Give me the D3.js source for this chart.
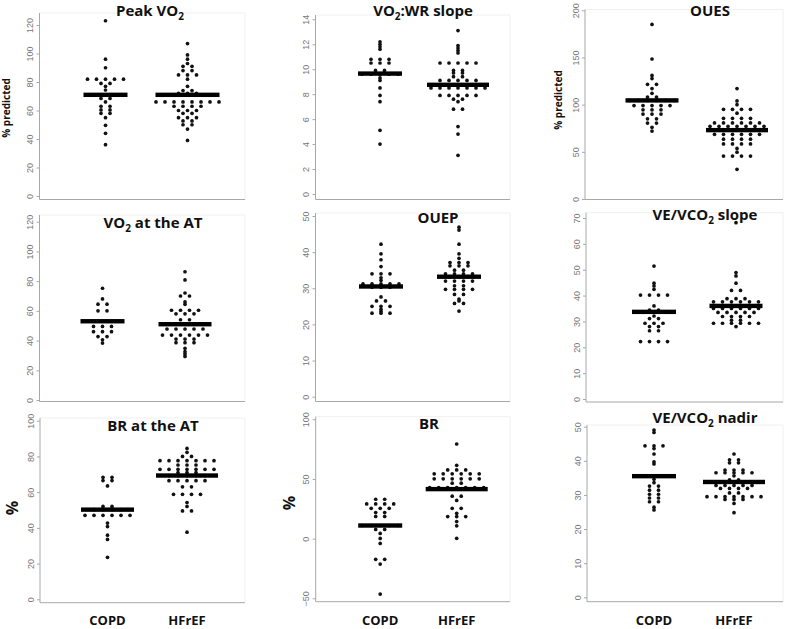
<!DOCTYPE html>
<html><head><meta charset="utf-8">
<script src="https://cdn.jsdelivr.net/npm/d3@7"></script>
<style>body{margin:0;background:#fff} svg{display:block}</style>
</head><body>
<svg id="c" width="794" height="629"></svg>
<script>
// ---------------- DATA ----------------
const groups = ["COPD", "HFrEF"];
const titles = ["Peak VO{2}", "VO{2}:WR slope", "OUES", "VO{2} at the AT", "OUEP", "VE/VCO{2} slope", "BR at the AT", "BR", "VE/VCO{2} nadir"];
const yLabels = ["% predicted", "", "% predicted", "", "", "", "%", "%", ""];
const tickValues = [
  [0, 20, 40, 60, 80, 100, 120],
  [0, 2, 4, 6, 8, 10, 12, 14],
  [0, 50, 100, 150, 200],
  [0, 20, 40, 60, 80, 100, 120],
  [0, 10, 20, 30, 40, 50],
  [0, 10, 20, 30, 40, 50, 60, 70],
  [0, 20, 40, 60, 80, 100],
  [-50, 0, 50, 100],
  [0, 10, 20, 30, 40, 50]
];
// horizontal centre line of each group (COPD, HFrEF)
const centreLines = [[71, 71], [9.65, 8.75], [104.5, 73], [53, 51], [30.5, 33.2], [33.7, 36], [50.2, 69.3], [11, 41.5], [35.5, 33.8]];

const peakVO2_COPD = [123, 96, 90, 82, 82, 82, 82, 82, 79, 79, 77, 74.4, 71, 71, 71, 71, 68.5, 68.5, 66, 63, 63, 60.4, 60.4, 58, 58, 55, 49.6, 44, 36];
const peakVO2_HFrEF = [107, 99, 96, 93, 91, 91, 88, 88, 85, 85, 85, 82, 77, 74, 74, 72, 72, 72, 71, 71, 71, 71, 71, 66, 66, 66, 66, 66, 66, 66, 66, 63, 63, 63, 63, 60, 60, 60, 58, 58, 55, 55, 55, 52.7, 52.7, 50, 50, 47, 39];
const vo2wr_COPD = [12.2, 12.0, 11.8, 11.6, 10.8, 10.8, 10.8, 10.5, 10.5, 10.5, 9.9, 9.9, 9.6, 9.6, 9.6, 9.6, 9.6, 9.3, 9.1, 8.5, 7.9, 7.4, 5.1, 4.0];
const vo2wr_HFrEF = [13.1, 11.9, 11.7, 11.5, 11.3, 10.5, 10.5, 10.5, 10.5, 10.5, 9.9, 9.9, 9.7, 9.7, 9.4, 9.4, 9.1, 9.1, 9.1, 9.1, 9.1, 8.75, 8.75, 8.75, 8.75, 8.75, 8.75, 8.5, 8.5, 8.5, 8.5, 8.5, 8.5, 8.5, 7.9, 7.9, 7.9, 7.9, 7.9, 7.6, 7.6, 7.4, 6.8, 6.8, 5.4, 4.8, 3.1];
const oues_COPD = [185, 148.4, 131, 127.6, 121.5, 121.5, 117, 112, 108, 108, 104.5, 104.5, 104.5, 104.5, 104.5, 104.5, 99, 99, 99, 99, 99, 94.5, 94.5, 94.5, 90, 90, 90, 85, 85, 80.5, 80.5, 76, 72];
const oues_HFrEF = [117, 104, 100, 95, 95, 95, 95, 91, 85.5, 85.5, 85.5, 85.5, 80.6, 80.6, 80.6, 80.6, 80.6, 80.6, 77, 77, 77, 77, 77, 77, 77, 73, 73, 73, 73, 73, 68.6, 68.6, 68.6, 68.6, 68.6, 68.6, 63.4, 63.4, 63.4, 63.4, 58.4, 58.4, 58.4, 58.4, 53.6, 49.6, 45.5, 45.5, 45.5, 45.5, 31.4];
const vo2at_COPD = [75.2, 68, 64.5, 64.5, 60, 60, 53, 53, 53, 53, 49.5, 49.5, 49.5, 46, 46, 46, 42.7, 42.7, 40.5, 38.3];
const vo2at_HFrEF = [86.3, 80.8, 72, 70, 70, 66, 64.4, 60.4, 60.4, 60.4, 60.4, 58, 58, 58, 54, 54, 51, 51, 51, 51, 51, 47.8, 47.8, 47.8, 47.8, 47.8, 43.7, 43.7, 43.7, 43.7, 43.7, 43.7, 41, 41, 41, 38.6, 38.6, 38.6, 34.8, 32.5, 31, 29.3];
const ouep_COPD = [42.2, 39.5, 37.9, 36, 34, 34, 34, 32.9, 32.2, 31.2, 31.2, 31.2, 31.2, 31.2, 30.3, 30.3, 30.3, 27.6, 26.5, 26.5, 25, 25, 25, 24.2, 23.6, 23.1, 23.1, 23.1];
const ouep_HFrEF = [46.9, 46.1, 42.2, 39.5, 38.3, 37.1, 37.1, 37.1, 36.2, 36.2, 36.2, 35, 35, 34, 34, 34, 34, 33.2, 33.2, 33.2, 32, 32, 32, 32, 30.7, 30.7, 29.7, 29.7, 29.7, 29.7, 28.3, 28.3, 27, 26.5, 25.8, 25.8, 23.7];
const veSlope_COPD = [51.4, 44.8, 43.7, 42.4, 40.2, 40.2, 40.2, 40.2, 36, 34.4, 34.4, 33.7, 33.7, 33.7, 32.1, 31.1, 31.1, 29.3, 29.3, 29.3, 28, 28, 26.4, 26.4, 22.2, 22.2, 22.2, 22.2];
const veSlope_HFrEF = [68.2, 48.9, 47.6, 44.8, 42, 42, 38.8, 38.8, 38.8, 37.6, 37.6, 37.6, 37.6, 37.6, 37.6, 36, 36, 36, 36, 36, 36, 35, 35, 35, 35, 35, 35, 33.5, 33.5, 33.5, 33.5, 33.5, 31.9, 31.9, 31.9, 31.9, 30.5, 30.5, 29.3, 29.3, 29.3, 29.3, 29.3, 29.3, 28];
const brAT_COPD = [68.3, 68.3, 66.5, 66.5, 63.5, 52, 52, 50.2, 50.2, 50.2, 50.2, 47, 47, 47, 47, 47, 47, 42.7, 40.7, 35.9, 33.5, 23.5];
const brAT_HFrEF = [84.5, 82.3, 80, 80, 77.6, 77.6, 77.6, 77.6, 77.6, 77.6, 77.6, 75.2, 75.2, 75.2, 72.8, 72.8, 72.8, 72.8, 72.8, 72.8, 72.8, 71, 71, 71, 69.3, 69.3, 69.3, 69.3, 69.3, 66.4, 66.4, 66.4, 66.4, 66.4, 63, 63, 58.8, 58.8, 58.8, 58.8, 54.2, 52, 49.5, 49.5, 37.6];
const br_COPD = [33, 33, 29.1, 29.1, 29.1, 29.1, 25.4, 25.4, 25.4, 21.9, 21.9, 18.6, 18.6, 11, 11, 11, 11, 11, 7.7, 7.7, 4.4, 0.2, -4, -17.3, -17.3, -21.3, -46.5];
const br_HFrEF = [79.3, 61.4, 57.6, 57.6, 57.6, 54.3, 54.3, 54.3, 54.3, 54.3, 54.3, 50.1, 50.1, 50.1, 50.1, 50.1, 50.1, 46.5, 46.5, 42.8, 42.8, 42.8, 42.8, 42.8, 42.8, 42.8, 41.5, 41.5, 41.5, 35.6, 35.6, 32, 25.4, 25.4, 21.2, 18.5, 18.5, 18.5, 14.3, 10.7, 0.3];
const veNadir_COPD = [49, 48.3, 44.4, 44.4, 44.4, 43.6, 42, 39.7, 39.1, 35.5, 35.5, 34.6, 33.6, 32.6, 32.6, 31.4, 31.4, 30.2, 30.2, 29.1, 29.1, 28, 28, 26.4, 25.6];
const veNadir_HFrEF = [42, 40.3, 40.3, 39.4, 39.4, 37.3, 37.3, 37.3, 36.5, 36.5, 36.5, 36.5, 36.5, 35.6, 34.4, 34.4, 33.8, 33.8, 33.8, 32.8, 32.8, 32.8, 32.8, 32.8, 31.9, 31.9, 31.9, 31.9, 30.6, 30.6, 29.5, 29.5, 29.5, 29.5, 29.5, 29.5, 29.5, 28.7, 28.7, 28.7, 27.5, 24.8];

const panelData = [
  [peakVO2_COPD, peakVO2_HFrEF], [vo2wr_COPD, vo2wr_HFrEF], [oues_COPD, oues_HFrEF],
  [vo2at_COPD, vo2at_HFrEF], [ouep_COPD, ouep_HFrEF], [veSlope_COPD, veSlope_HFrEF],
  [brAT_COPD, brAT_HFrEF], [br_COPD, br_HFrEF], [veNadir_COPD, veNadir_HFrEF]
];

// ---------------- LAYOUT ----------------
const layout = [
  {ax: 39.5, rx: 245, top: 13, bot: 199.5, pLo: 196, pHi: 25, g: [66, 148], tx: 110.5, ty: 15.5, lx: 6, ly: 108, ls: 10},
  {ax: 315.5, rx: 510, top: 15, bot: 199.5, pLo: 194, pHi: 19.3, g: [64.5, 142.5], tx: 107.5, ty: 15.5},
  {ax: 585, rx: 783, top: 9.5, bot: 199.5, pLo: 199, pHi: 10.3, g: [67, 152], tx: 125, ty: 15.5, lx: 558, ly: 100, ls: 10},
  {ax: 39.5, rx: 245, top: 215, bot: 401.5, pLo: 400, pHi: 221.7, g: [63, 145.5], tx: 113.5, ty: 228},
  {ax: 315.5, rx: 510, top: 213, bot: 401.5, pLo: 396.7, pHi: 216, g: [65.5, 143.5], tx: 122.5, ty: 223},
  {ax: 586, rx: 783, top: 212.7, bot: 402, pLo: 399, pHi: 218, g: [68, 150], tx: 119, ty: 220},
  {ax: 40, rx: 245, top: 418, bot: 602.7, pLo: 599.3, pHi: 420.7, g: [67.5, 147], tx: 113, ty: 430.5, lx: 12, ly: 508, ls: 16},
  {ax: 315.7, rx: 510, top: 416.7, bot: 601.7, pLo: 598.3, pHi: 419.3, g: [64.5, 141], tx: 113.3, ty: 429, lx: 288.5, ly: 503, ls: 16},
  {ax: 587, rx: 783, top: 425, bot: 601.7, pLo: 597.3, pHi: 426.7, g: [67, 147], tx: 118, ty: 422.5}
];
const dotR = 1.85, spacing = 9, barH = 4.4;

const svg = d3.select("#c");
const titleFont = "'Open Sans', sans-serif";

function addTitle(sel, str) {
  const parts = str.split(/(\{[^}]*\})/).filter(s => s.length);
  let sub = false;
  parts.forEach(p => {
    if (p.startsWith("{")) {
      sel.append("tspan").attr("font-size", "10px").attr("dy", 4).text(p.slice(1, -1));
      sub = true;
    } else {
      const t = sel.append("tspan").text(p);
      if (sub) { t.attr("dy", -4); sub = false; }
    }
  });
}

layout.forEach((L, i) => {
  const ticks = tickValues[i];
  const y = d3.scaleLinear().domain([ticks[0], ticks[ticks.length - 1]]).range([L.pLo, L.pHi]);
  const x = d3.scalePoint().domain(groups).range([L.ax + L.g[0], L.ax + L.g[1]]);
  const g = svg.append("g");

  // faint frame (top/right)
  g.append("path")
    .attr("d", `M${L.ax},${L.top}H${L.rx}V${L.bot}`)
    .attr("fill", "none").attr("stroke", "#f0f0f0").attr("stroke-width", 1);
  // bottom line
  g.append("line").attr("x1", L.ax).attr("x2", L.rx).attr("y1", L.bot).attr("y2", L.bot)
    .attr("stroke", "#a8a8a8").attr("stroke-width", 1);
  // left line
  g.append("line").attr("x1", L.ax).attr("x2", L.ax).attr("y1", L.top).attr("y2", L.bot)
    .attr("stroke", "#a8a8a8").attr("stroke-width", 1);

  const axis = g.append("g").attr("transform", `translate(${L.ax},0)`)
    .call(d3.axisLeft(y).tickValues(ticks).tickSize(3).tickFormat(d3.format("d")));
  axis.select(".domain").remove();
  axis.selectAll(".tick line").attr("stroke", "#a8a8a8");
  axis.selectAll(".tick text")
    .attr("x", null).attr("dy", null)
    .attr("transform", "translate(-9.5,0) rotate(-90)")
    .attr("text-anchor", "middle").attr("dominant-baseline", "central")
    .attr("fill", "#777").attr("font-size", "9px")
    .attr("font-family", "'Liberation Sans', Arial, sans-serif");

  // dots (rows of equal values, centred)
  groups.forEach((grp, gi) => {
    const vals = panelData[i][gi];
    const rows = d3.groups(vals, v => v);
    const pts = [];
    let maxSpan = 0;
    rows.forEach(([v, arr]) => {
      const n = arr.length;
      maxSpan = Math.max(maxSpan, (n - 1) * spacing);
      arr.forEach((_, k) => pts.push({v, off: (k - (n - 1) / 2) * spacing}));
    });
    g.append("g").selectAll("circle").data(pts).join("circle")
      .attr("cx", d => x(grp) + d.off)
      .attr("cy", d => y(d.v))
      .attr("r", dotR).attr("fill", "#111");
    const bw = Math.max(44, Math.min(64, maxSpan + 8));
    g.append("rect")
      .attr("x", x(grp) - bw / 2).attr("width", bw)
      .attr("y", y(centreLines[i][gi]) - barH / 2).attr("height", barH)
      .attr("fill", "#000");
  });

  // title
  const t = g.append("text")
    .attr("x", L.ax + L.tx).attr("y", L.ty)
    .attr("text-anchor", "middle")
    .attr("font-family", titleFont).attr("font-weight", "bold").attr("font-size", "15px")
    .attr("fill", "#111");
  addTitle(t, titles[i]);

  // y label
  if (yLabels[i]) {
    g.append("text")
      .attr("transform", `translate(${L.lx},${L.ly}) rotate(-90)`)
      .attr("text-anchor", "middle").attr("dominant-baseline", "central")
      .attr("font-family", titleFont).attr("font-weight", "bold")
      .attr("font-size", L.ls + "px").attr("fill", "#111")
      .text(yLabels[i]);
  }

  // x labels bottom row
  if (i >= 6) {
    g.selectAll(".xl").data(groups).join("text")
      .attr("x", d => x(d)).attr("y", 625)
      .attr("text-anchor", "middle")
      .attr("font-family", titleFont).attr("font-weight", "bold").attr("font-size", "13px")
      .attr("fill", "#111")
      .text(d => d);
  }
});
</script>
</body></html>
